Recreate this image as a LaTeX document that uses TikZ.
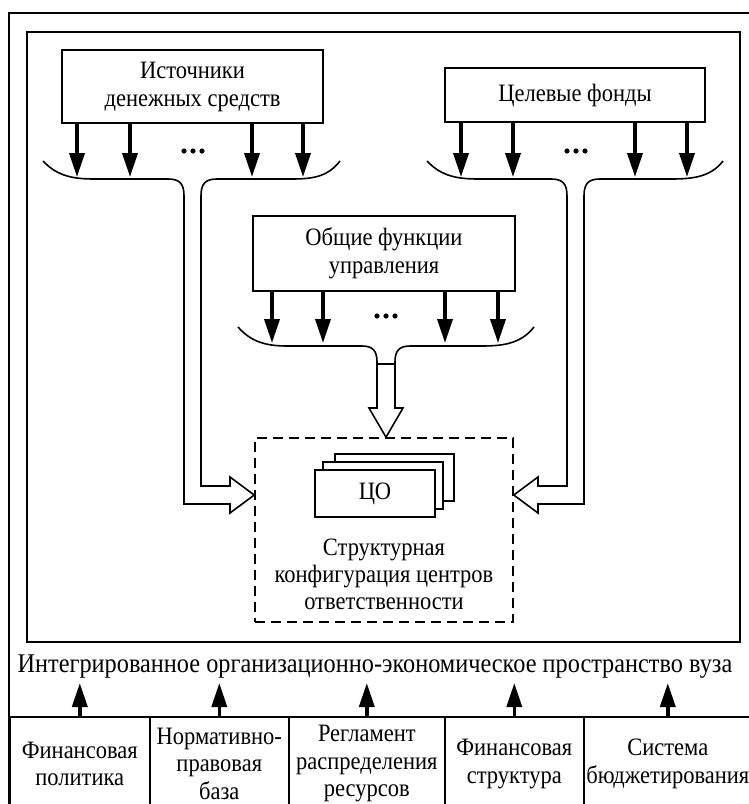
\documentclass[tikz,border=0pt]{standalone}
\usepackage{fontspec}
\setmainfont{Liberation Serif}[FakeStretch=0.9]
\usetikzlibrary{arrows.meta}
\begin{document}
\begin{tikzpicture}[x=1pt,y=-1pt,
  frame/.style={line width=1.8pt},
  box/.style={draw,line width=1.6pt,fill=white,align=center,inner sep=0pt,
    font=\fontsize{25}{28}\selectfont},
  fatarrow/.style={line width=3.6pt,-{Triangle[length=24pt,width=15pt]}},
  brace/.style={line width=1.6pt,line join=miter},
  dot/.style={fill=black,draw=none},
  rcbox/.style={draw,dashed,dash pattern=on 10pt off 6pt,line width=1.6pt,inner sep=0pt},
  bottombox/.style={draw,line width=1.6pt,align=center,inner sep=0pt,anchor=north west,
    font=\fontsize{25}{27.5}\selectfont}]
\useasboundingbox (0,0) rectangle (749,804);
\clip (0,0) rectangle (749,804);

% outer and inner frames
\draw[frame] (9,13) rectangle (760,820);
\draw[frame] (27,32) rectangle (740,642);

% top boxes
\node[box,minimum width=261pt,minimum height=73pt] (src) at (192.5,86.5) {Источники\\денежных средств};
\node[box,minimum width=260pt,minimum height=54pt] (funds) at (575,95) {Целевые фонды};
\node[box,minimum width=262pt,minimum height=75pt] (func) at (384,253.5) {Общие функции\\управления};

% target area: responsibility centres
\node[rcbox,minimum width=258pt,minimum height=184pt] (rc) at (384,530) {};
\node[box,minimum width=119pt,minimum height=47pt] (co3) at (394.5,477.5) {};
\node[box,minimum width=120pt,minimum height=47pt] (co2) at (383,485.5) {};
\node[box,minimum width=120pt,minimum height=47pt] (co1) at (375,493.5) {ЦО};
\node[align=center,font=\fontsize{25}{27}\selectfont] (rctext) at (384,574)
  {Структурная\\конфигурация центров\\ответственности};

% arrows out of the top boxes
\foreach \x [count=\i] in {77,130,252,303}
  \coordinate (sa\i) at (\x,177);
\foreach \x [count=\i] in {461,513,635,687}
  \coordinate (fa\i) at (\x,177);
\foreach \x [count=\i] in {272,323,445,498}
  \coordinate (ga\i) at (\x,343);
\foreach \i in {1,...,4} {
  \draw[fatarrow] (src.south -| sa\i) -- (sa\i);
  \draw[fatarrow] (funds.south -| fa\i) -- (fa\i);
  \draw[fatarrow] (func.south -| ga\i) -- (ga\i);
}

% ellipsis dots between the arrows
\foreach \x in {184,193,202} \fill[dot] (\x,151) circle (2.6pt);
\foreach \x in {567,576,585} \fill[dot] (\x,151) circle (2.6pt);
\foreach \x in {377,386,395} \fill[dot] (\x,316) circle (2.6pt);

% collector of the sources, hollow arrow into the left side
\draw[brace] (43,161) .. controls (58,177) and (75,179) .. (95,179)
  -- (168,179) .. controls (180,179) and (184,184) .. (184,196)
  -- (184,504) -- (230,504) -- (230,513) -- (rc.west |- 0,495) -- (230,477) -- (230,486) -- (201,486)
  -- (201,196) .. controls (201,184) and (205,179) .. (217,179)
  -- (290,179) .. controls (310,179) and (327,178) .. (340,161);

% collector of the target funds, hollow arrow into the right side
\draw[brace] (427,161) .. controls (442,177) and (459,179) .. (479,179)
  -- (551,179) .. controls (563,179) and (567,184) .. (567,196)
  -- (567,486) -- (538,486) -- (538,477) -- (rc.east |- 0,495) -- (538,513) -- (538,504) -- (584,504)
  -- (584,196) .. controls (584,184) and (588,179) .. (600,179)
  -- (670,179) .. controls (690,179) and (710,178) .. (723,161);

% collector of the management functions, hollow arrow down
\draw[brace] (238,327) .. controls (252,343) and (268,346) .. (288,346)
  -- (362,346) .. controls (373,346) and (377,351) .. (377,362)
  -- (377,408) -- (369,408) -- (rc.north -| 386,0) -- (403,408) -- (395,408)
  -- (395,362) .. controls (395,351) and (399,346) .. (410,346)
  -- (480,346) .. controls (500,346) and (520,345) .. (534,327);
\draw[brace] (377,364) -- (395,364);

% integrated space caption
\node[font=\fontsize{27}{30}\selectfont] (cap) at (375,667)
  {Интегрированное организационно-экономическое пространство вуза};

% bottom row of supporting components
\node[bottombox,minimum width=140pt,minimum height=94pt] (b1) at (9,716) {Финансовая\\политика};
\node[bottombox,minimum width=139pt,minimum height=94pt] (b2) at (149,716) {Нормативно-\\правовая\\база};
\node[bottombox,minimum width=156pt,minimum height=94pt] (b3) at (288,716) {Регламент\\распределения\\ресурсов};
\node[bottombox,minimum width=139pt,minimum height=94pt] (b4) at (444,716) {Финансовая\\структура};
\node[bottombox,minimum width=168pt,minimum height=94pt] (b5) at (583,716) {Система\\бюджетирования};
\foreach \b in {b1,b2,b3,b4,b5}
  \draw[fatarrow] (\b.north) -- ++(0,-33);
\end{tikzpicture}
\end{document}
